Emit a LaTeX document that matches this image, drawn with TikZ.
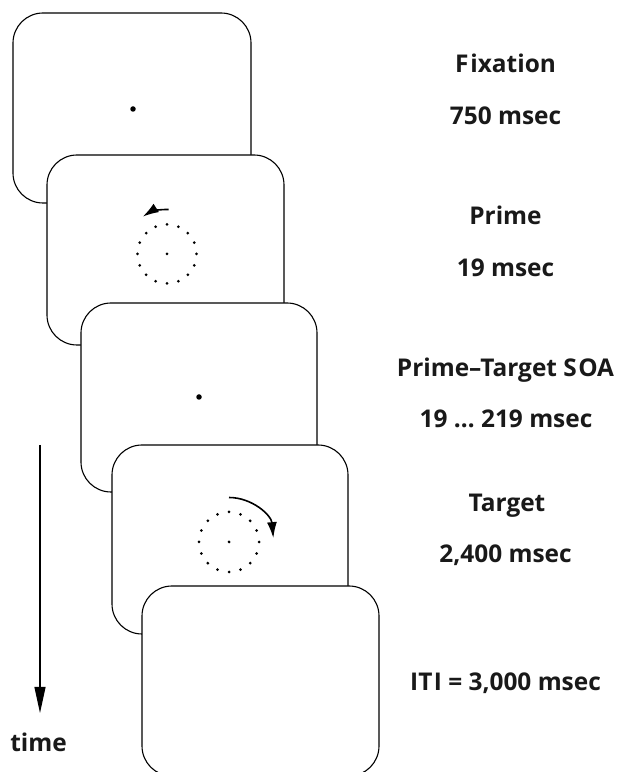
\documentclass[tikz,border=0pt]{standalone}
\usepackage{fontspec}
\setmainfont{Open Sans}
\usetikzlibrary{arrows.meta}
\begin{document}
\begin{tikzpicture}[x=1bp,y=1bp,
  frame/.style={draw=black, line width=1.1bp, fill=white, rounded corners=30bp, inner sep=0pt},
  lbl/.style={font=\bfseries\fontsize{24.5}{30}\selectfont, anchor=base, inner sep=0pt, text=black!90},
  fixdot/.style={fill=black, circle, inner sep=0pt, minimum size=5.5bp},
  motion/.style={line width=1.6bp, -{Latex[length=16bp,width=10bp]}},
  timearrow/.style={line width=1.1bp, -{Triangle[length=26bp,width=11bp]}}]
\useasboundingbox (0,0) rectangle (621,772);
\fill[white] (0,0) rectangle (621,772);

% frames
\node[frame, minimum width=238bp, minimum height=190bp] (f1) at (132,664) {};
\node[frame, minimum width=237bp, minimum height=190bp] (f2) at (165.5,522) {};
\node[frame, minimum width=236bp, minimum height=189bp] (f3) at (199,374.5) {};
\node[frame, minimum width=236bp, minimum height=189bp] (f4) at (230,232.5) {};
\node[frame, minimum width=237bp, minimum height=190bp] (f5) at (260.5,91) {};

% fixation dots
\node[fixdot] (fx1) at (133,663) {};
\node[fixdot] (fx3) at (199,375) {};

% prime display
\coordinate (c2) at (167,518);
\fill (c2) circle[radius=1.5bp];
\foreach \i in {0,...,15} {\fill ([shift={(\i*22.5:29.5bp)}]c2) circle[radius=1.5bp];}
\draw[motion] ([shift={(88:44.5bp)}]c2) arc[start angle=88, end angle=123, radius=44.5bp];

% target display
\coordinate (c4) at (229,230);
\fill (c4) circle[radius=1.5bp];
\foreach \i in {0,...,15} {\fill ([shift={(\i*22.5:30bp)}]c4) circle[radius=1.5bp];}
\draw[motion] ([shift={(90:44.5bp)}]c4) arc[start angle=90, end angle=5, radius=44.5bp];

% time arrow
\coordinate (t0) at (40,327);
\coordinate (t1) at (40,59);
\draw[timearrow] (t0) -- (t1);
\node[lbl] (time) at (38.5,20) {time};

% labels
\node[lbl] (l1) at (505.5,699) {F\kern2bp ixation};
\node[lbl] (l2) at (505.5,647) {750 msec};
\node[lbl] (l3) at (505.5,547) {Prime};
\node[lbl] (l4) at (505.5,495) {19 msec};
\node[lbl] (l5) at (505.5,395) {Prime–Target S\kern1.5bp OA};
\node[lbl] (l6) at (506,344) {19 … 219 msec};
\node[lbl] (l7) at (507,260) {Target};
\node[lbl] (l8) at (505.5,209) {2,400 msec};
\node[lbl] (l9) at (505.5,81) {IT\kern1.5bp I = 3,000 msec};
\end{tikzpicture}
\end{document}
